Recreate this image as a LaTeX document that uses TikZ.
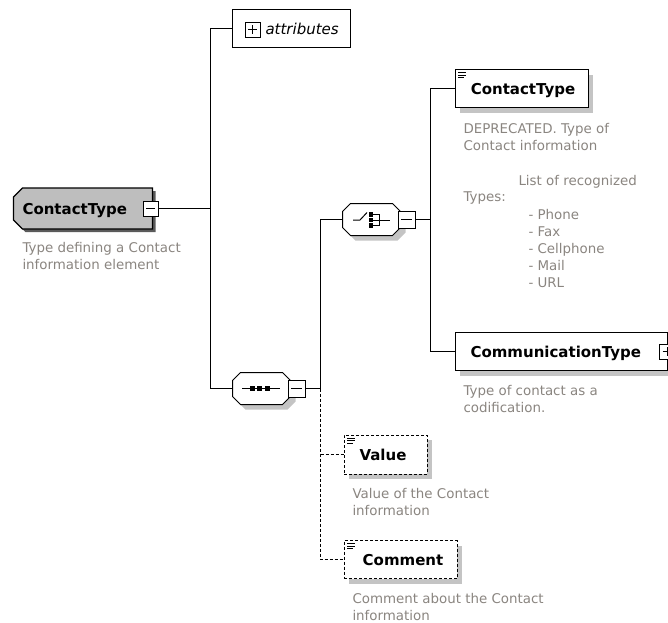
\documentclass[tikz,border=0pt]{standalone}
\usepackage{fontspec}
\setmainfont{DejaVu Sans}
\usetikzlibrary{shadows}
\definecolor{desccol}{HTML}{8A8580}
\definecolor{rootfill}{HTML}{BEBEBE}
\definecolor{shadecol}{HTML}{C4C4C4}
\definecolor{rootshade}{HTML}{5A5A5A}
% octagon through the anchors of a (plain) node
\newcommand\myoctpath[2]{([shift={(#2,0)}]#1.north west) -- ([shift={(-#2,0)}]#1.north east) -- ([shift={(0,#2)}]#1.north east) -- ([shift={(0,-#2)}]#1.south east) -- ([shift={(-#2,0)}]#1.south east) -- ([shift={(#2,0)}]#1.south west) -- ([shift={(0,-#2)}]#1.south west) -- ([shift={(0,#2)}]#1.north west) -- cycle}
% left corners chamfered only
\newcommand\myleftchamfer[2]{([shift={(#2,0)}]#1.north west) -- (#1.north east) -- (#1.south east) -- ([shift={(#2,0)}]#1.south west) -- ([shift={(0,-#2)}]#1.south west) -- ([shift={(0,#2)}]#1.north west) -- cycle}
\begin{document}
\begin{tikzpicture}[x=1pt,y=-1pt,line width=1pt,
  desctext/.style={anchor=north west,inner sep=0,align=left,text=desccol,
    font=\fontsize{13.4}{17}\selectfont},
  elname/.style={inner sep=0,font=\fontsize{15}{18}\selectfont\bfseries,text height=11,text depth=0},
  lightshadow/.style={drop shadow={shadow xshift=5pt,shadow yshift=-5pt,fill=shadecol,opacity=1}},
  elbox/.style={draw,fill=white,inner sep=0},
  childbox/.style={elbox,lightshadow,minimum height=38},
  dashbox/.style={childbox,dash pattern=on 3pt off 2pt},
  dashline/.style={line width=1pt,dash pattern=on 3pt off 2pt},
  conn/.style={line width=1pt},
  frame/.style={inner sep=0},
  compframe/.style={frame,minimum width=57,minimum height=31},
  sqbox/.style={draw,fill=white,inner sep=0,minimum size=#1},
  minusbox/.style={sqbox=#1,path picture={\draw[line width=1pt] ([xshift=3pt]path picture bounding box.west) -- ([xshift=-3pt]path picture bounding box.east);}},
  plusbox/.style={sqbox=#1,path picture={\draw[line width=1pt] ([xshift=3pt]path picture bounding box.west) -- ([xshift=-3pt]path picture bounding box.east);
     \draw[line width=1pt] ([yshift=-3pt]path picture bounding box.north) -- ([yshift=3pt]path picture bounding box.south);}},
  blk/.style={fill=black,inner sep=0,minimum size=5}
]
\useasboundingbox (0,0) rectangle (668,622);

% root element
\node[frame,minimum width=138,minimum height=40] (root) at (83,208.5) {};
\fill[rootshade,transform canvas={xshift=3pt,yshift=-3pt}] \myleftchamfer{root}{9};
\draw[line width=1.3pt,fill=rootfill] \myleftchamfer{root}{9};
\node[minusbox=15] (rootm) at (150.5,208.5) {};
\node[elname,anchor=west] (rootname) at (22,208.5) {ContactType};
\node[desctext] (rootdesc) at (22,241.5) {Type defining a Contact\\information element};

% attributes
\node[elbox,minimum width=118,minimum height=38] (attr) at (291.5,28.5) {};
\node[plusbox=15] (attrp) at (252.5,29.5) {};
\node[inner sep=0,anchor=west,font=\fontsize{15}{18}\selectfont\itshape,text height=11,text depth=0] (attrname) at (265,28.5) {attributes};

% sequence
\node[compframe] (seq) at (261.5,388.5) {};
\fill[shadecol,transform canvas={xshift=5pt,yshift=-5pt}] \myoctpath{seq}{8};
\draw[fill=white] \myoctpath{seq}{8};
\node[minusbox=17] (seqm) at (296.5,388.5) {};
\draw (242,388.5) -- (280,388.5);
\node[blk] (s1) at (252.5,388.5) {};
\node[blk] (s2) at (259.5,388.5) {};
\node[blk] (s3) at (267,388.5) {};

% choice
\node[compframe] (choice) at (371.5,219.5) {};
\fill[shadecol,transform canvas={xshift=5pt,yshift=-5pt}] \myoctpath{choice}{8};
\draw[fill=white] \myoctpath{choice}{8};
\node[minusbox=17] (chm) at (406.5,219.5) {};
\draw (353,220) -- (360,220) -- (367,212.5);
\node[blk,minimum size=4.5] (c1) at (371,214.5) {};
\node[blk,minimum size=4.5] (c2) at (371,220) {};
\node[blk,minimum size=4.5] (c3) at (371,225.5) {};
\draw (373,214.5) -- (379,214.5) -- (379,225.5) -- (373,225.5);
\draw (373,220) -- (390,220);

% child ContactType
\node[childbox,minimum width=133] (ct) at (521.5,88.5) {};
\node[elname] (ctname) at (523,88.5) {ContactType};
\node[desctext] (ctdesc) at (463,122.5) {DEPRECATED. Type of\\Contact information};
\node[desctext] (types) at (463,191.5) {Types:};
\node[desctext] (listhead) at (518,174.5) {List of recognized};
\node[desctext] (listitems) at (528,208.5) {- Phone\\- Fax\\- Cellphone\\- Mail\\- URL};

% CommunicationType
\node[childbox,minimum width=212] (comm) at (561,351.5) {};
\node[elname,anchor=west] (commname) at (470,351.5) {CommunicationType};
\node[plusbox=15] (commp) at (667,351.5) {};
\node[desctext] (commdesc) at (463,384.5) {Type of contact as a\\codification.};

% Value
\node[dashbox,minimum width=83,minimum height=39] (value) at (385.5,454.5) {};
\node[elname] (valname) at (383,455) {Value};
\node[desctext] (valdesc) at (352,487.5) {Value of the Contact\\information};

% Comment
\node[dashbox,minimum width=113] (comment) at (400.5,559.5) {};
\node[elname] (comname) at (403,559.5) {Comment};
\node[desctext] (comdesc) at (352,592.5) {Comment about the Contact\\information};

% documentation icons
\foreach \n in {ct,value,comment}{
  \draw[line width=0.8pt] ([shift={(3.5,3.5)}]\n.north west) -- ++(8,0);
  \draw[line width=0.8pt] ([shift={(3.5,6)}]\n.north west) -- ++(8,0);
  \draw[line width=0.8pt] ([shift={(3.5,8.5)}]\n.north west) -- ++(6,0);
}

% connectors
\coordinate (j1) at (210.5,208.5);
\draw[conn] (rootm.east) -- (j1);
\draw[conn] (attr.west) -| (j1) |- (seq.west);
\coordinate (j2) at (320.5,388.5);
\draw[conn] (seqm.east) -- (j2);
\draw[conn] (choice.west) -| (j2);
\draw[dashline] (j2) -- (j2 |- comment.west) -- (comment.west);
\draw[dashline] (j2 |- value.west) -- (value.west);
\coordinate (j3) at (430.5,219.5);
\draw[conn] (chm.east) -- (j3);
\draw[conn] (ct.west) -| (j3) |- (comm.west);
\end{tikzpicture}
\end{document}
